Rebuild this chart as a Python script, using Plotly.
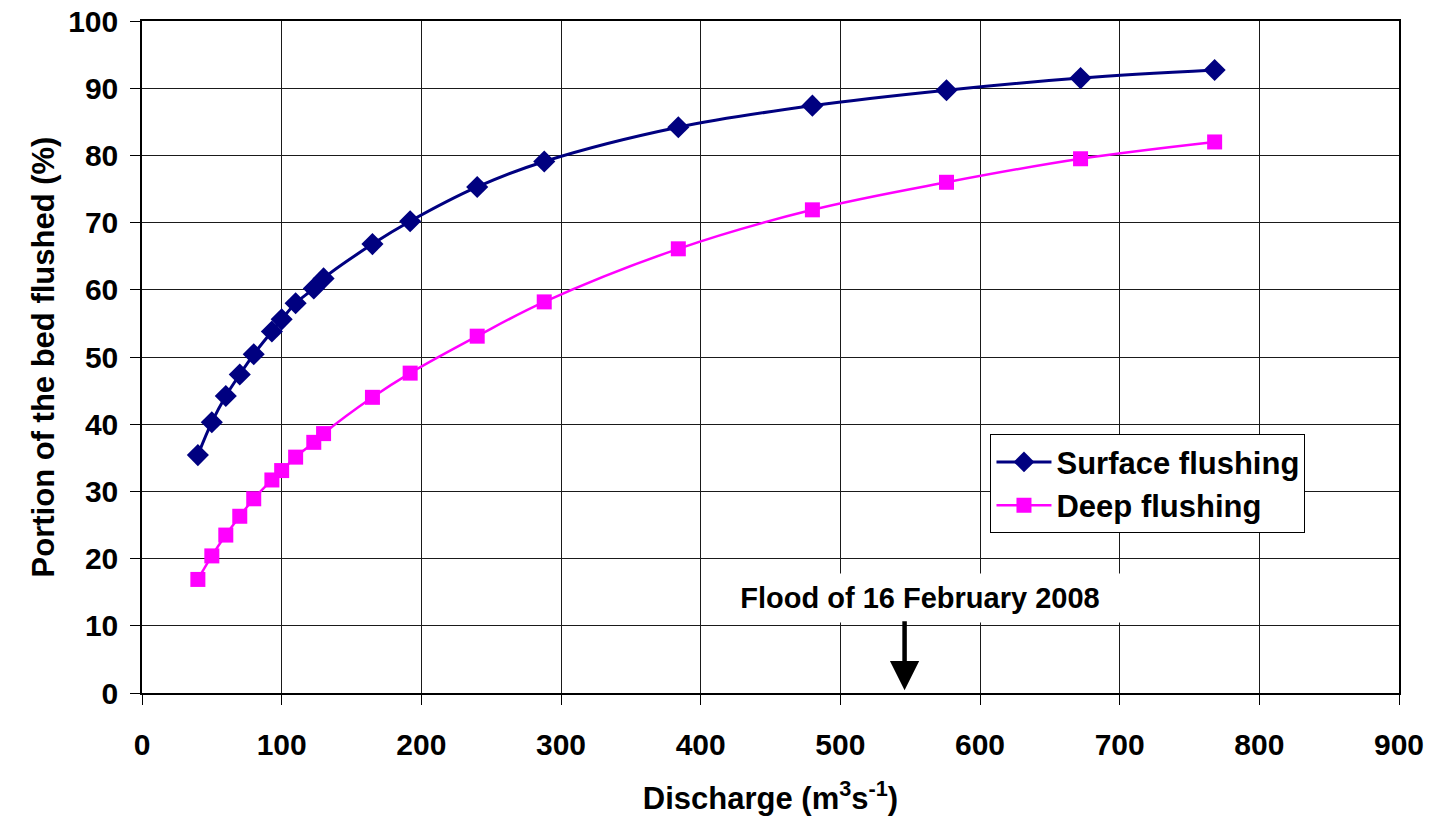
import plotly.graph_objects as go

discharge = [40, 50, 60, 70, 80, 93, 100, 110, 123, 130, 165, 192, 240, 288, 384, 480, 576, 672, 768]
surface_flushing = [35.4, 40.3, 44.2, 47.4, 50.4, 53.8, 55.6, 58.0, 60.2, 61.7, 66.8, 70.2, 75.3, 79.1, 84.2, 87.4, 89.7, 91.5, 92.7]
deep_flushing = [16.9, 20.4, 23.5, 26.3, 28.9, 31.7, 33.1, 35.1, 37.3, 38.6, 44.0, 47.6, 53.1, 58.2, 66.1, 71.9, 76.0, 79.5, 82.0]

flood_label = "Flood of 16 February 2008"
flood_discharge = 546
x_ticks = [0, 100, 200, 300, 400, 500, 600, 700, 800, 900]
y_ticks = [0, 10, 20, 30, 40, 50, 60, 70, 80, 90, 100]

FONT = "Arial, Liberation Sans, sans-serif"

fig = go.Figure()
fig.add_trace(go.Scatter(
    x=discharge, y=surface_flushing, name="Surface flushing",
    mode="lines+markers", line=dict(color="#000080", width=3, shape="spline"),
    marker=dict(symbol="diamond", size=17, color="#000080"),
))
fig.add_trace(go.Scatter(
    x=discharge, y=deep_flushing, name="Deep flushing",
    mode="lines+markers", line=dict(color="#FF00FF", width=2.5, shape="spline"),
    marker=dict(symbol="square", size=15, color="#FF00FF"),
))

# label with white background
fig.add_annotation(
    x=557, y=14.1, xref="x", yref="y", text=flood_label, showarrow=False,
    font=dict(family=FONT, size=29, color="black", weight="bold"),
    bgcolor="white", width=420, height=36, borderpad=6,
)
# arrow
fig.add_annotation(
    x=flood_discharge, y=0.4, xref="x", yref="y",
    ax=flood_discharge, ay=10.9, axref="x", ayref="y",
    text="", showarrow=True, arrowhead=2, arrowsize=1.3, arrowwidth=4.5,
    arrowcolor="black",
)

axis_common = dict(
    showgrid=True, gridcolor="#1a1a1a", gridwidth=1,
    showline=True, linecolor="black", linewidth=1.5, mirror=True,
    ticks="outside", ticklen=10, tickcolor="black", tickwidth=1,
    tickfont=dict(family=FONT, size=30, color="black", weight="bold"),
    zeroline=False, automargin=False,
)

fig.update_xaxes(
    range=[0, 900], tickvals=x_ticks, ticklabelstandoff=14,
    title=dict(text="Discharge (m<sup>3</sup>s<sup>-1</sup>)",
               font=dict(family=FONT, size=31, color="black", weight="bold"), standoff=28),
    **axis_common,
)
fig.update_yaxes(
    range=[0, 100], tickvals=y_ticks, ticklabelstandoff=6,
    title=dict(text="Portion of the bed flushed (%)",
               font=dict(family=FONT, size=31, color="black", weight="bold"), standoff=4),
    **axis_common,
)

fig.update_layout(
    width=1431, height=822,
    margin=dict(l=142, r=32, t=21, b=129),
    paper_bgcolor="white", plot_bgcolor="white",
    font=dict(family=FONT, color="black"),
    showlegend=True,
    legend=dict(
        x=0.675, y=0.385, xanchor="left", yanchor="top",
        bgcolor="white", bordercolor="black", borderwidth=1,
        font=dict(family=FONT, size=31, color="black", weight="bold"),
        itemwidth=55, tracegroupgap=4,
    ),
)

fig.write_html(
    "out.html",
    config={"displayModeBar": False},
    post_script="document.body.style.margin='0';document.body.style.overflow='hidden';",
)
